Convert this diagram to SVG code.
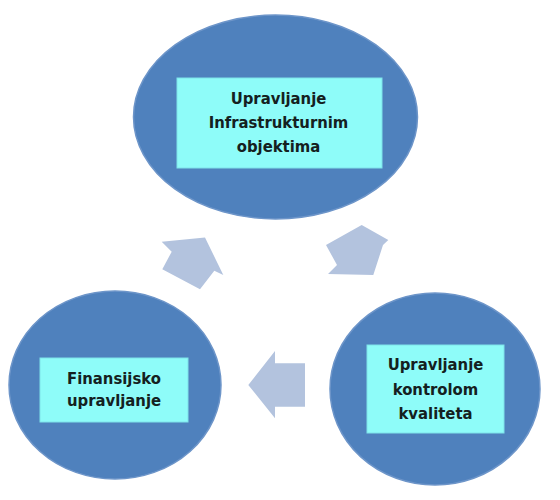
<svg xmlns="http://www.w3.org/2000/svg" width="560" height="500" viewBox="0 0 560 500">
  <style>
    .circle { fill: #4f81bd; stroke: #6d95c9; stroke-width: 1.5; }
    .box { fill: #8efcf9; stroke: #7fe3ea; stroke-width: 1; }
    .label { font-family: "DejaVu Sans Condensed", "DejaVu Sans", "Liberation Sans", sans-serif; font-stretch: condensed; font-weight: bold; font-size: 16.5px; fill: #142020; text-anchor: middle; }
    .arrow { fill: #b3c3de; }
  </style>
  <rect x="0" y="0" width="560" height="500" fill="#ffffff"/>
  <g id="connectors">
    <polygon class="arrow" points="205,237.5 223.3,275 214.3,270.7 200,289.3 162.3,269.3 171.7,251.7 161.7,241.7"/>
    <polygon class="arrow" points="361.7,225 388.3,240 383,245 373.3,275 328,274 337,265 326,245"/>
    <polygon class="arrow" points="248.3,385 275,351 275,363.3 305,363.3 305,406.7 275,406.7 275,418.3"/>
  </g>
  <g id="node-infrastruktura">
    <ellipse class="circle" cx="275.5" cy="117" rx="142" ry="102"/>
    <rect class="box" x="177" y="78" width="205" height="90"/>
    <text class="label" x="278.5" y="103.5">Upravljanje</text>
    <text class="label" x="278.5" y="128.3">Infrastrukturnim</text>
    <text class="label" x="278.5" y="151.7">objektima</text>
  </g>
  <g id="node-finansijsko">
    <ellipse class="circle" cx="115" cy="385" rx="106" ry="94"/>
    <rect class="box" x="40" y="358" width="148" height="64"/>
    <text class="label" x="114" y="383.5">Finansijsko</text>
    <text class="label" x="114" y="406">upravljanje</text>
  </g>
  <g id="node-kvalitet">
    <ellipse class="circle" cx="435" cy="389" rx="105" ry="96"/>
    <rect class="box" x="367" y="345" width="137" height="88"/>
    <text class="label" x="435.5" y="370">Upravljanje</text>
    <text class="label" x="435.5" y="395">kontrolom</text>
    <text class="label" x="435.5" y="419">kvaliteta</text>
  </g>
</svg>
